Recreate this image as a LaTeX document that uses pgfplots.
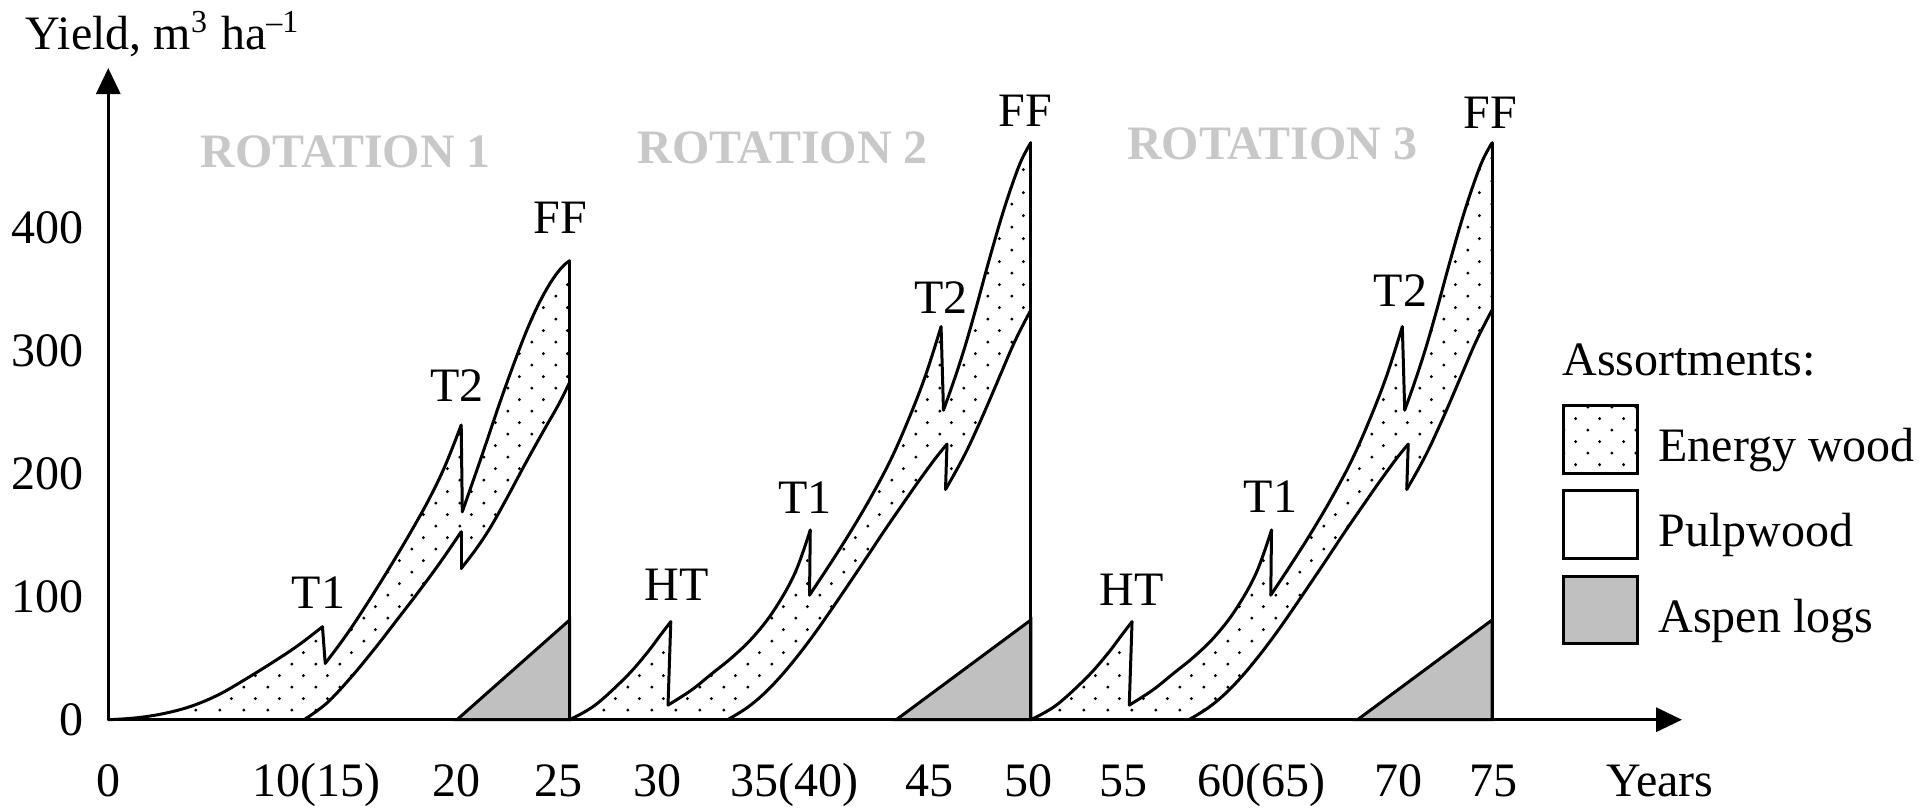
\documentclass[border=0pt]{standalone}
\usepackage{fontspec}
\setmainfont{Liberation Serif}
\usepackage{pgfplots}
\pgfplotsset{compat=1.18}
\usetikzlibrary{arrows.meta,patterns}
\definecolor{rotgray}{RGB}{200,200,200}
\definecolor{aspen}{RGB}{192,192,192}
\pgfdeclarepatternformonly{sparsedots}{\pgfpointorigin}{\pgfpoint{6pt}{5.85pt}}{\pgfpoint{6pt}{5.85pt}}{%
  \pgfpathcircle{\pgfpoint{1pt}{1pt}}{0.42pt}%
  \pgfpathcircle{\pgfpoint{4pt}{3.925pt}}{0.42pt}%
  \pgfusepath{fill}}
\newcommand\fs{\fontsize{12}{14.4}\selectfont}
\begin{document}
\begin{tikzpicture}[font=\fs]
\useasboundingbox (0,0) rectangle (482.25pt,201.75pt);
\begin{axis}[
  at={(27.065pt,21.82pt)}, anchor=origin,
  x=4.6125pt, y=0.30755pt,
  xmin=0, xmax=85.3, ymin=0, ymax=529.7,
  axis lines=left, axis on top, clip=false,
  axis line style={line width=0.85pt, -{Triangle[length=6.5pt,width=6pt]}},
  major tick length=0pt,
  xtick={0,11.3,18.9,24.4,29.75,37.2,44.5,49.9,55.05,62.5,69.95,75.1,84.1},
  xticklabels={0,10(15),20,25,30,35(40),45,50,55,60(65),70,75,Years},
  ytick={0,100,200,300,400}, yticklabels={0,100,200,300,400},
  xticklabel style={anchor=base, yshift=-19.25pt, inner sep=0pt, font=\fs},
  yticklabel style={anchor=east, xshift=-6pt, inner sep=0pt, font=\fs},
  legend style={at={(axis description cs:0.9238,0.4844)}, anchor=north west,
    draw=none, fill=none, inner sep=0pt, outer sep=0pt, row sep=3.7pt, column sep=5pt,
    font=\fs, nodes={inner sep=0pt}},
  legend cell align=left,
  legend image code/.code={\draw[#1, line width=0.75pt] (0pt,-6.4pt) rectangle (18.35pt,10.5pt);},
  curve/.style={black, line width=0.75pt, line cap=round, line join=round, forget plot, no markers},
]
% ---------------- Energy wood areas (dotted) ----------------
\addplot[pattern=sparsedots, draw=none, forget plot] coordinates {
 (0,0) (1.5,1.5) (3,5) (4.5,11) (6,20.5) (7.5,33.5) (9,47.5) (10.3,60.5) (11.61,75.6)
 (11.76,45.8) (12.71,64.8) (13.6,84.4) (14.7,110.3) (15.59,132.1) (16.47,154.5) (17.36,178.5) (18.24,205.8) (19.13,239.5)
 (19.19,169.1) (20.23,213.8) (21.23,258) (22.0,290) (22.67,316) (23.33,338) (24.0,356) (24.6,368) (25,373)
 (25,274) (24.4,256) (23.6,235) (22.6,208) (21.6,180) (20.7,156) (19.9,138) (19.13,123.0)
 (19.13,152.8) (18.02,128.5) (16.92,106) (15.59,80) (14.48,58.5) (13.16,34.5) (11.83,13.3) (10.61,0)
} --cycle;
\addplot[pattern=sparsedots, draw=none, forget plot] coordinates {
 (25,0) (26.39,11.9) (28.07,34.9) (29.18,53.9) (29.93,68.8) (30.49,79.7)
 (30.34,11.9) (31.61,24.1) (32.73,37.6) (33.85,51.2) (34.97,67.5) (36.09,89.1) (37.21,118.9) (38.05,154.2)
 (38.01,101.3) (39.1,126) (40.2,152) (41.3,180) (42.4,211) (43.4,245) (44.3,280) (45.14,319.5)
 (45.27,251.7) (45.8,274) (46.4,301.6) (47.0,332.8) (47.7,371.3) (48.4,407.7) (49.0,435.3) (49.5,455) (50,469)
 (50,333) (49.15,308) (48.4,282) (47.66,256) (47.1,237) (46.54,219) (45.98,203) (45.38,187.2)
 (45.46,224) (44.86,213) (43.93,194) (43.0,174) (42.06,153.5) (41.13,132.5) (40.19,111.5) (39.26,91)
 (38.33,71) (37.4,52.5) (36.46,35.5) (35.53,21) (34.6,9.5) (33.57,0)
} --cycle;
\addplot[pattern=sparsedots, draw=none, forget plot] coordinates {
 (50,0) (51.39,11.9) (53.07,34.9) (54.18,53.9) (54.93,68.8) (55.49,79.7)
 (55.34,11.9) (56.61,24.1) (57.73,37.6) (58.85,51.2) (59.97,67.5) (61.09,89.1) (62.21,118.9) (63.05,154.2)
 (63.01,101.3) (64.1,126) (65.2,152) (66.3,180) (67.4,211) (68.4,245) (69.3,280) (70.14,319.5)
 (70.27,251.7) (70.8,274) (71.4,301.6) (72.0,332.8) (72.7,371.3) (73.4,407.7) (74.0,435.3) (74.5,455) (75,469)
 (75,333) (74.15,308) (73.4,282) (72.66,256) (72.1,237) (71.54,219) (70.98,203) (70.38,187.2)
 (70.46,224) (69.86,213) (68.93,194) (68.0,174) (67.06,153.5) (66.13,132.5) (65.19,111.5) (64.26,91)
 (63.33,71) (62.4,52.5) (61.46,35.5) (60.53,21) (59.6,9.5) (58.57,0)
} --cycle;
% ---------------- Aspen logs (grey) ----------------
\addplot[fill=aspen, draw=black, line width=0.75pt, forget plot] coordinates {(18.9,0) (25,81) (25,0)} --cycle;
\addplot[fill=aspen, draw=black, line width=0.75pt, forget plot] coordinates {(42.71,0) (50,81) (50,0)} --cycle;
\addplot[fill=aspen, draw=black, line width=0.75pt, forget plot] coordinates {(67.71,0) (75,81) (75,0)} --cycle;
% ---------------- Rotation 1 curves ----------------
\addplot[curve, smooth, tension=0.6] coordinates {(0,0) (1.5,1.5) (3,5) (4.5,11) (6,20.5) (7.5,33.5) (9,47.5) (10.3,60.5) (11.61,75.6)};
\addplot[curve] coordinates {(11.61,75.6) (11.76,45.8)};
\addplot[curve, smooth, tension=0.6] coordinates {(11.76,45.8) (12.71,64.8) (13.6,84.4) (14.7,110.3) (15.59,132.1) (16.47,154.5) (17.36,178.5) (18.24,205.8) (19.13,239.5)};
\addplot[curve] coordinates {(19.13,239.5) (19.19,169.1)};
\addplot[curve, smooth, tension=0.6] coordinates {(19.19,169.1) (20.23,213.8) (21.23,258) (22.0,290) (22.67,316) (23.33,338) (24.0,356) (24.6,368) (25,373)};
\addplot[curve, smooth, tension=0.6] coordinates {(10.61,0) (11.83,13.3) (13.16,34.5) (14.48,58.5) (15.59,80) (16.92,106) (18.02,128.5) (19.13,152.8)};
\addplot[curve] coordinates {(19.13,152.8) (19.13,123.0)};
\addplot[curve, smooth, tension=0.6] coordinates {(19.13,123.0) (19.9,138) (20.7,156) (21.6,180) (22.6,208) (23.6,235) (24.4,256) (25,274)};
\addplot[curve] coordinates {(25,0) (25,373)};
% ---------------- Rotation 2 curves ----------------
\addplot[curve, smooth, tension=0.6] coordinates {(25,0) (26.39,11.9) (28.07,34.9) (29.18,53.9) (29.93,68.8) (30.49,79.7)};
\addplot[curve] coordinates {(30.49,79.7) (30.34,11.9)};
\addplot[curve, smooth, tension=0.6] coordinates {(30.34,11.9) (31.61,24.1) (32.73,37.6) (33.85,51.2) (34.97,67.5) (36.09,89.1) (37.21,118.9) (38.05,154.2)};
\addplot[curve] coordinates {(38.05,154.2) (38.01,101.3)};
\addplot[curve, smooth, tension=0.6] coordinates {(38.01,101.3) (39.1,126) (40.2,152) (41.3,180) (42.4,211) (43.4,245) (44.3,280) (45.14,319.5)};
\addplot[curve] coordinates {(45.14,319.5) (45.27,251.7)};
\addplot[curve, smooth, tension=0.6] coordinates {(45.27,251.7) (45.8,274) (46.4,301.6) (47.0,332.8) (47.7,371.3) (48.4,407.7) (49.0,435.3) (49.5,455) (50,469)};
\addplot[curve, smooth, tension=0.6] coordinates {(33.57,0) (34.6,9.5) (35.53,21) (36.46,35.5) (37.4,52.5) (38.33,71) (39.26,91) (40.19,111.5) (41.13,132.5) (42.06,153.5) (43.0,174) (43.93,194) (44.86,213) (45.46,224)};
\addplot[curve] coordinates {(45.46,224) (45.38,187.2)};
\addplot[curve, smooth, tension=0.6] coordinates {(45.38,187.2) (45.98,203) (46.54,219) (47.1,237) (47.66,256) (48.4,282) (49.15,308) (50,333)};
\addplot[curve] coordinates {(50,0) (50,469)};
% ---------------- Rotation 3 curves ----------------
\addplot[curve, smooth, tension=0.6] coordinates {(50,0) (51.39,11.9) (53.07,34.9) (54.18,53.9) (54.93,68.8) (55.49,79.7)};
\addplot[curve] coordinates {(55.49,79.7) (55.34,11.9)};
\addplot[curve, smooth, tension=0.6] coordinates {(55.34,11.9) (56.61,24.1) (57.73,37.6) (58.85,51.2) (59.97,67.5) (61.09,89.1) (62.21,118.9) (63.05,154.2)};
\addplot[curve] coordinates {(63.05,154.2) (63.01,101.3)};
\addplot[curve, smooth, tension=0.6] coordinates {(63.01,101.3) (64.1,126) (65.2,152) (66.3,180) (67.4,211) (68.4,245) (69.3,280) (70.14,319.5)};
\addplot[curve] coordinates {(70.14,319.5) (70.27,251.7)};
\addplot[curve, smooth, tension=0.6] coordinates {(70.27,251.7) (70.8,274) (71.4,301.6) (72.0,332.8) (72.7,371.3) (73.4,407.7) (74.0,435.3) (74.5,455) (75,469)};
\addplot[curve, smooth, tension=0.6] coordinates {(58.57,0) (59.6,9.5) (60.53,21) (61.46,35.5) (62.4,52.5) (63.33,71) (64.26,91) (65.19,111.5) (66.13,132.5) (67.06,153.5) (68.0,174) (68.93,194) (69.86,213) (70.46,224)};
\addplot[curve] coordinates {(70.46,224) (70.38,187.2)};
\addplot[curve, smooth, tension=0.6] coordinates {(70.38,187.2) (70.98,203) (71.54,219) (72.1,237) (72.66,256) (73.4,282) (74.15,308) (75,333)};
\addplot[curve] coordinates {(75,0) (75,469)};
% ---------------- legend ----------------
\addlegendimage{pattern=sparsedots, draw=black}
\addlegendentry{Energy wood}
\addlegendimage{fill=white, draw=black}
\addlegendentry{Pulpwood}
\addlegendimage{fill=aspen, draw=black}
\addlegendentry{Aspen logs}
% ---------------- labels ----------------
\node[anchor=base west, inner sep=0pt, font=\fs] at (axis cs:-4.51,544.4) {Yield, m\textsuperscript{3} ha\textsuperscript{–1}};
\node[anchor=base west, inner sep=0pt, font=\fs] at (axis cs:78.78,280.2) {Assortments:};
\node[anchor=base, font=\fs\bfseries, text=rotgray] at (axis cs:12.87,449) {ROTATION 1};
\node[anchor=base, font=\fs\bfseries, text=rotgray] at (axis cs:36.55,452) {ROTATION 2};
\node[anchor=base, font=\fs\bfseries, text=rotgray] at (axis cs:63.1,455) {ROTATION 3};
\node[anchor=base, font=\fs] at (axis cs:11.39,90.4) {T1};
\node[anchor=base, font=\fs] at (axis cs:18.9,259) {T2};
\node[anchor=base, font=\fs] at (axis cs:24.5,395) {FF};
\node[anchor=base, font=\fs] at (axis cs:30.81,97) {HT};
\node[anchor=base, font=\fs] at (axis cs:37.77,167.6) {T1};
\node[anchor=base, font=\fs] at (axis cs:45.14,330) {T2};
\node[anchor=base, font=\fs] at (axis cs:49.71,482.6) {FF};
\node[anchor=base, font=\fs] at (axis cs:55.46,93) {HT};
\node[anchor=base, font=\fs] at (axis cs:63.0,168.8) {T1};
\node[anchor=base, font=\fs] at (axis cs:70.04,336) {T2};
\node[anchor=base, font=\fs] at (axis cs:74.92,480.6) {FF};
\end{axis}
\end{tikzpicture}
\end{document}
